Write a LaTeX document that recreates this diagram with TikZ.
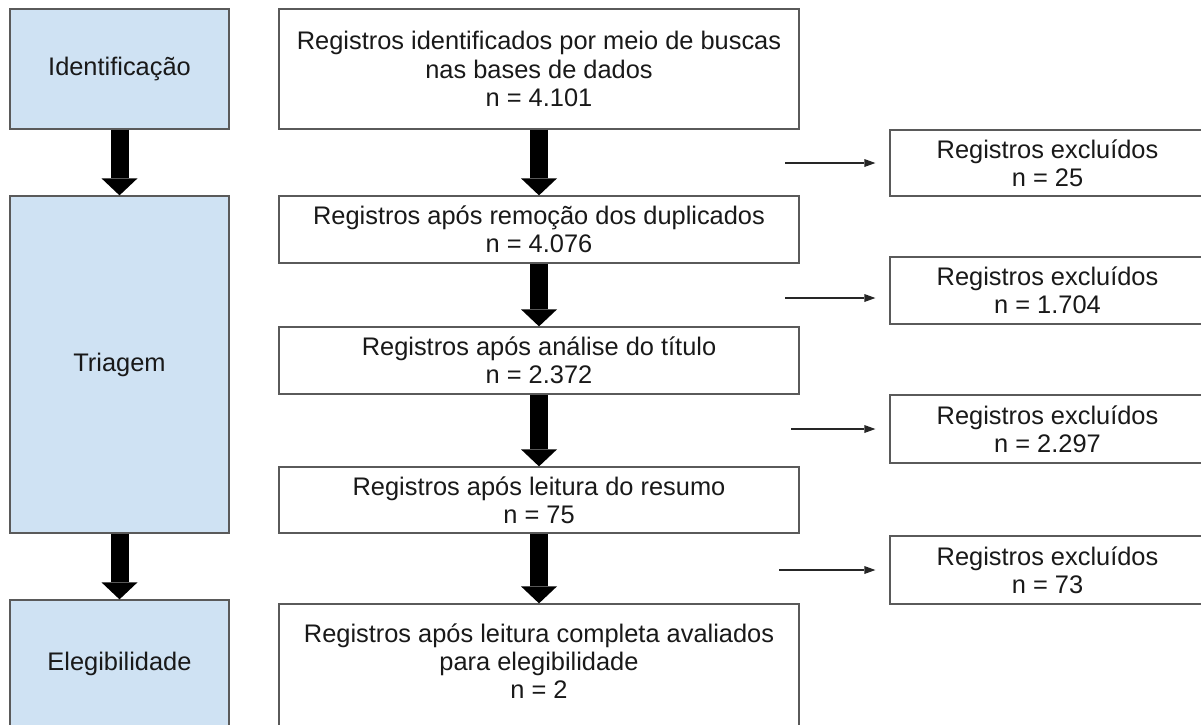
\documentclass[tikz,border=0pt]{standalone}
\usepackage{fontspec}
\setmainfont{Liberation Sans}
\usetikzlibrary{arrows.meta,calc}
\definecolor{lblue}{HTML}{CFE2F3}
\definecolor{edgegray}{HTML}{5A5A5A}
\begin{document}
\begin{tikzpicture}[x=1pt,y=-1pt,
  txt/.style={align=center, inner sep=0pt, text=black!90, font=\fontsize{25.4}{28.3}\selectfont},
  box/.style={txt, draw=edgegray, line width=1.3pt},
  stage/.style={box, fill=lblue, minimum width=219pt},
  mid/.style={box, minimum width=520pt},
  excl/.style={box, minimum width=315pt},
  bigarrow/.style={line width=18pt, -{Triangle[width=36pt,length=17pt,line width=0pt]}},
  thinarrow/.style={line width=1.4pt, draw=black!85, -{Triangle[width=8pt,length=11pt,line width=0pt]}, shorten >=14pt}]
\useasboundingbox (0,0) rectangle (1201,724);
\clip (0,0) rectangle (1201,724);
\fill[white] (0,0) rectangle (1201,724);

% stage boxes
\node[stage, minimum height=120pt] (l1) at (119.5,69) {Identificação};
\node[stage, minimum height=337pt] (l2) at (119.5,364.5) {Triagem};
\node[stage, minimum height=128pt] (l3) at (119.5,664) {Elegibilidade};

% middle boxes
\node[mid, minimum height=120pt] (m1) at (539,69) {Registros identificados por meio de buscas\\nas bases de dados\\n = 4.101};
\node[mid, minimum height=67pt] (m2) at (539,229.5) {Registros após remoção dos duplicados\\n = 4.076};
\node[mid, minimum height=67pt] (m3) at (539,360.5) {Registros após análise do título\\n = 2.372};
\node[mid, minimum height=66pt] (m4) at (539,500) {Registros após leitura do resumo\\n = 75};
\node[mid, minimum height=124pt] (m5) at (539,666) {};
\node[txt] (m5t) at (539,661) {Registros após leitura completa avaliados\\para elegibilidade\\n = 2};

% excluded boxes
\node[excl, minimum height=66pt] (r1) at (1047.5,163) {Registros excluídos\\n = 25};
\node[excl, minimum height=67pt] (r2) at (1047.5,290.5) {Registros excluídos\\n = 1.704};
\node[excl, minimum height=68pt] (r3) at (1047.5,429) {Registros excluídos\\n = 2.297};
\node[excl, minimum height=68pt] (r4) at (1047.5,570) {Registros excluídos\\n = 73};

% thick arrows
\draw[bigarrow] (l1.south) -- (l2.north);
\draw[bigarrow] (l2.south) -- (l3.north);
\draw[bigarrow] (m1.south) -- (m2.north);
\draw[bigarrow] (m2.south) -- (m3.north);
\draw[bigarrow] (m3.south) -- (m4.north);
\draw[bigarrow] (m4.south) -- (m5.north);

% thin arrows
\coordinate (a1) at (785,163);
\coordinate (a2) at (785,298);
\coordinate (a3) at (791,429);
\coordinate (a4) at (779,570);
\draw[thinarrow] (a1) -- (r1.west |- a1);
\draw[thinarrow] (a2) -- (r2.west |- a2);
\draw[thinarrow] (a3) -- (r3.west |- a3);
\draw[thinarrow] (a4) -- (r4.west |- a4);
\end{tikzpicture}
\end{document}
